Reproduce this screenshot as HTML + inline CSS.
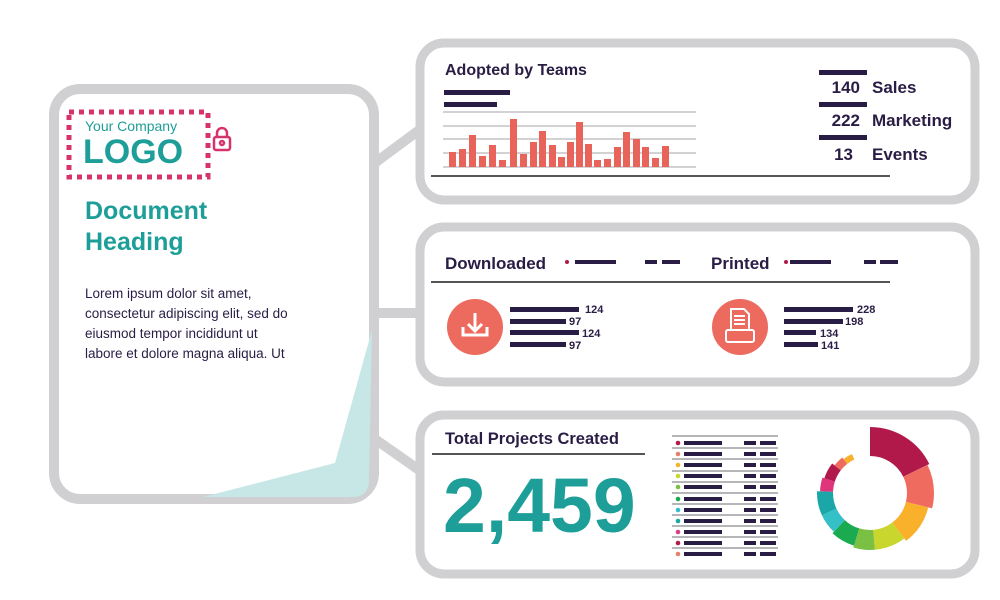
<!DOCTYPE html>
<html><head><meta charset="utf-8"><style>
html,body{margin:0;padding:0;background:#fff;}
svg{display:block;font-family:"Liberation Sans",sans-serif;}
</style></head><body>
<svg width="1000" height="600" viewBox="0 0 1000 600" xmlns="http://www.w3.org/2000/svg">
<rect width="1000" height="600" fill="#fff"/>
<g stroke="#d0d0d2" stroke-width="10" fill="none">
<line x1="372" y1="165" x2="422" y2="128"/>
<line x1="372" y1="313" x2="422" y2="313"/>
<line x1="372" y1="437" x2="422" y2="472"/>
</g>
<rect x="54" y="89" width="320" height="410" rx="26" fill="#fff" stroke="#d0d0d2" stroke-width="10"/>
<path d="M372,330 L335,463 L203,497 L352,497 Q369,497 369,480 Z" fill="#c6e7e6"/>
<rect x="69" y="112" width="139" height="65" fill="none" stroke="#d6336c" stroke-width="5" stroke-dasharray="5,5"/>
<text x="85" y="131" font-size="14" fill="#1e9e98">Your Company</text>
<text x="83" y="163" font-size="34" font-weight="bold" fill="#1e9e98">LOGO</text>
<g stroke="#d6336c" stroke-width="2.5" fill="none">
<rect x="214" y="137" width="16" height="13" rx="2"/>
<path d="M217,137 v-4 a5,5 0 0 1 10,0 v4"/>
<circle cx="222" cy="143" r="2"/>
</g>
<text x="85" y="219" font-size="25" font-weight="bold" fill="#1e9e98">Document</text>
<text x="85" y="250" font-size="25" font-weight="bold" fill="#1e9e98">Heading</text>
<g font-size="13.5" fill="#2a1d45">
<text x="85" y="298">Lorem ipsum dolor sit amet,</text>
<text x="85" y="318">consectetur adipiscing elit, sed do</text>
<text x="85" y="338">eiusmod tempor incididunt ut</text>
<text x="85" y="358">labore et dolore magna aliqua. Ut</text>
</g>
<rect x="420" y="43" width="555" height="157" rx="24" fill="#fff" stroke="#d0d0d2" stroke-width="9"/>
<text x="445" y="75" font-size="16" font-weight="bold" fill="#2a1d45">Adopted by Teams</text>
<rect x="444" y="90" width="66" height="5" fill="#2a1d45"/>
<rect x="444" y="102" width="53" height="5" fill="#2a1d45"/>
<g stroke="#b8b8bc" stroke-width="1.3">
<line x1="443" y1="112" x2="696" y2="112"/><line x1="443" y1="126" x2="696" y2="126"/>
<line x1="443" y1="139" x2="696" y2="139"/><line x1="443" y1="153" x2="696" y2="153"/>
<line x1="443" y1="167" x2="696" y2="167"/>
</g>
<g fill="#e8645a">
<rect x="449" y="152" width="7" height="15"/><rect x="459" y="149" width="7" height="18"/>
<rect x="469" y="135" width="7" height="32"/><rect x="479" y="156" width="7" height="11"/>
<rect x="489" y="145" width="7" height="22"/><rect x="499" y="160" width="7" height="7"/>
<rect x="510" y="119" width="7" height="48"/><rect x="520" y="154" width="7" height="13"/>
<rect x="530" y="142" width="7" height="25"/><rect x="539" y="131" width="7" height="36"/>
<rect x="549" y="145" width="7" height="22"/><rect x="558" y="157" width="7" height="10"/>
<rect x="567" y="142" width="7" height="25"/><rect x="576" y="122" width="7" height="45"/>
<rect x="585" y="144" width="7" height="23"/><rect x="594" y="160" width="7" height="7"/>
<rect x="604" y="159" width="7" height="8"/><rect x="614" y="147" width="7" height="20"/>
<rect x="623" y="132" width="7" height="35"/><rect x="633" y="139" width="7" height="28"/>
<rect x="642" y="147" width="7" height="20"/><rect x="652" y="158" width="7" height="9"/>
<rect x="662" y="146" width="7" height="21"/>
</g>
<line x1="431" y1="176" x2="890" y2="176" stroke="#555" stroke-width="2"/>
<rect x="819" y="70" width="48" height="5" fill="#2a1d45"/>
<rect x="819" y="102" width="48" height="5" fill="#2a1d45"/>
<rect x="819" y="135" width="48" height="5" fill="#2a1d45"/>
<g font-size="17" font-weight="bold" fill="#2a1d45">
<text x="860" y="93" text-anchor="end">140</text><text x="872" y="93">Sales</text>
<text x="860" y="126" text-anchor="end">222</text><text x="872" y="126">Marketing</text>
<text x="853" y="160" text-anchor="end">13</text><text x="872" y="160">Events</text>
</g>
<rect x="420" y="227" width="555" height="155" rx="24" fill="#fff" stroke="#d0d0d2" stroke-width="9"/>
<g font-size="17" font-weight="bold" fill="#2a1d45">
<text x="445" y="269">Downloaded</text><text x="711" y="269">Printed</text>
</g>
<circle cx="567" cy="262" r="2" fill="#b0194a"/><circle cx="786" cy="262" r="2" fill="#b0194a"/>
<g fill="#2a1d45">
<rect x="575" y="260" width="41" height="4"/><rect x="645" y="260" width="12" height="4"/><rect x="662" y="260" width="18" height="4"/>
<rect x="790" y="260" width="41" height="4"/><rect x="864" y="260" width="12" height="4"/><rect x="880" y="260" width="18" height="4"/>
</g>
<line x1="431" y1="282" x2="890" y2="282" stroke="#555" stroke-width="2"/>
<circle cx="475" cy="327" r="28" fill="#ec6a5e"/>
<g stroke="#fff" stroke-width="3" fill="none">
<line x1="475" y1="313" x2="475" y2="330"/><path d="M468,324 L475,331 L482,324"/>
<path d="M463,327 v8 h24 v-8"/>
</g>
<circle cx="740" cy="327" r="28" fill="#ec6a5e"/>
<g stroke="#fff" stroke-width="2" fill="none">
<path d="M731,309 h13 l5,5 v16 h-18 z"/><line x1="734" y1="316" x2="745" y2="316"/><line x1="734" y1="320" x2="745" y2="320"/><line x1="734" y1="324" x2="745" y2="324"/>
<rect x="726" y="330" width="28" height="12" rx="2"/>
</g>
<g fill="#2a1d45">
<rect x="510" y="307" width="69" height="5"/><rect x="510" y="319" width="56" height="5"/>
<rect x="510" y="330" width="69" height="5"/><rect x="510" y="342" width="56" height="5"/>
<rect x="784" y="307" width="69" height="5"/><rect x="784" y="319" width="59" height="5"/>
<rect x="784" y="330" width="32" height="5"/><rect x="784" y="342" width="34" height="5"/>
</g>
<g font-size="11" font-weight="bold" fill="#2a1d45">
<text x="585" y="313">124</text><text x="569" y="325">97</text><text x="582" y="337">124</text><text x="569" y="349">97</text>
<text x="857" y="313">228</text><text x="845" y="325">198</text><text x="820" y="337">134</text><text x="821" y="349">141</text>
</g>
<rect x="420" y="415" width="555" height="159" rx="24" fill="#fff" stroke="#d0d0d2" stroke-width="9"/>
<text x="445" y="444" font-size="16.5" font-weight="bold" fill="#2a1d45">Total Projects Created</text>
<line x1="432" y1="454" x2="645" y2="454" stroke="#555" stroke-width="2"/>
<text x="443" y="532" font-size="77" font-weight="bold" fill="#1e9e98">2,459</text>
<g stroke="#8a8a8e" stroke-width="1.2">
<line x1="672" y1="436" x2="778" y2="436"/><line x1="672" y1="448" x2="778" y2="448"/><line x1="672" y1="459" x2="778" y2="459"/>
<line x1="672" y1="471" x2="778" y2="471"/><line x1="672" y1="482" x2="778" y2="482"/><line x1="672" y1="493" x2="778" y2="493"/>
<line x1="672" y1="504" x2="778" y2="504"/><line x1="672" y1="515" x2="778" y2="515"/><line x1="672" y1="526" x2="778" y2="526"/>
<line x1="672" y1="537" x2="778" y2="537"/><line x1="672" y1="548" x2="778" y2="548"/>
</g>
<g fill="#2a1d45">
<rect x="684" y="441" width="38" height="4"/><rect x="744" y="441" width="12" height="4"/><rect x="760" y="441" width="16" height="4"/>
<rect x="684" y="452" width="38" height="4"/><rect x="744" y="452" width="12" height="4"/><rect x="760" y="452" width="16" height="4"/>
<rect x="684" y="463" width="38" height="4"/><rect x="744" y="463" width="12" height="4"/><rect x="760" y="463" width="16" height="4"/>
<rect x="684" y="474" width="38" height="4"/><rect x="744" y="474" width="12" height="4"/><rect x="760" y="474" width="16" height="4"/>
<rect x="684" y="485" width="38" height="4"/><rect x="744" y="485" width="12" height="4"/><rect x="760" y="485" width="16" height="4"/>
<rect x="684" y="497" width="38" height="4"/><rect x="744" y="497" width="12" height="4"/><rect x="760" y="497" width="16" height="4"/>
<rect x="684" y="508" width="38" height="4"/><rect x="744" y="508" width="12" height="4"/><rect x="760" y="508" width="16" height="4"/>
<rect x="684" y="519" width="38" height="4"/><rect x="744" y="519" width="12" height="4"/><rect x="760" y="519" width="16" height="4"/>
<rect x="684" y="530" width="38" height="4"/><rect x="744" y="530" width="12" height="4"/><rect x="760" y="530" width="16" height="4"/>
<rect x="684" y="541" width="38" height="4"/><rect x="744" y="541" width="12" height="4"/><rect x="760" y="541" width="16" height="4"/>
<rect x="684" y="552" width="38" height="4"/><rect x="744" y="552" width="12" height="4"/><rect x="760" y="552" width="16" height="4"/>
</g>
<circle cx="678" cy="443" r="2.3" fill="#b0194a"/><circle cx="678" cy="454" r="2.3" fill="#e0856b"/>
<circle cx="678" cy="465" r="2.3" fill="#f2b52b"/><circle cx="678" cy="476" r="2.3" fill="#c8d62e"/>
<circle cx="678" cy="487" r="2.3" fill="#7ac043"/><circle cx="678" cy="499" r="2.3" fill="#1aaa4f"/>
<circle cx="678" cy="510" r="2.3" fill="#35c0c8"/><circle cx="678" cy="521" r="2.3" fill="#1ba7a8"/>
<circle cx="678" cy="532" r="2.3" fill="#d6408a"/><circle cx="678" cy="543" r="2.3" fill="#b0194a"/>
<circle cx="678" cy="554" r="2.3" fill="#e0856b"/>
<g transform="translate(870,493) rotate(-90)" fill="none">
<circle r="51.5" stroke="#b0194a" stroke-width="29" pathLength="360" stroke-dasharray="64 360" stroke-dashoffset="0"/>
<circle r="50.5" stroke="#ef6b5f" stroke-width="27" pathLength="360" stroke-dasharray="40 360" stroke-dashoffset="-64"/>
<circle r="48.5" stroke="#f9b12b" stroke-width="23" pathLength="360" stroke-dasharray="39 360" stroke-dashoffset="-104"/>
<circle r="47" stroke="#c8d62e" stroke-width="20" pathLength="360" stroke-dasharray="32 360" stroke-dashoffset="-143"/>
<circle r="47" stroke="#7ac043" stroke-width="20" pathLength="360" stroke-dasharray="22 360" stroke-dashoffset="-175"/>
<circle r="46" stroke="#1aaa4f" stroke-width="18" pathLength="360" stroke-dasharray="26 360" stroke-dashoffset="-197"/>
<circle r="45" stroke="#35c0c8" stroke-width="16" pathLength="360" stroke-dasharray="22 360" stroke-dashoffset="-223"/>
<circle r="45" stroke="#1ba7a8" stroke-width="16" pathLength="360" stroke-dasharray="27 360" stroke-dashoffset="-245"/>
<circle r="43.5" stroke="#e0357a" stroke-width="13" pathLength="360" stroke-dasharray="16 360" stroke-dashoffset="-272"/>
<circle r="42.5" stroke="#b0194a" stroke-width="11" pathLength="360" stroke-dasharray="20 360" stroke-dashoffset="-288"/>
<circle r="41" stroke="#ef6b5f" stroke-width="8" pathLength="360" stroke-dasharray="14 360" stroke-dashoffset="-308"/>
<circle r="40" stroke="#f9b12b" stroke-width="6" pathLength="360" stroke-dasharray="13 360" stroke-dashoffset="-322"/>
</g>
</svg>
</body></html>
